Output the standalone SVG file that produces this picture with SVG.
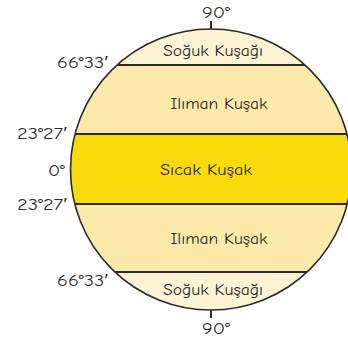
<svg xmlns="http://www.w3.org/2000/svg" width="348" height="338" viewBox="0 0 348 338">
<style>
.lbl{font-family:"Comic Neue","Liberation Sans",sans-serif;font-size:16px;fill:#2a2a2a;}
.zone{text-anchor:middle;}
.deg{text-anchor:end;}
.ln{stroke:#2a2a2a;stroke-width:2;fill:none;}
</style>
<defs>
<clipPath id="globeClip"><circle cx="211" cy="169.5" r="140.5"/></clipPath>
</defs>
<rect width="348" height="338" fill="#ffffff"/>
<g id="zones" clip-path="url(#globeClip)">
<rect id="polarN" x="60" y="25" width="300" height="40" fill="#FCF3D4"/>
<rect id="temperateN" x="60" y="65" width="300" height="69" fill="#FDE9A9"/>
<rect id="tropical" x="60" y="134" width="300" height="70" fill="#F9DB0B"/>
<rect id="temperateS" x="60" y="204" width="300" height="68" fill="#FDE9A9"/>
<rect id="polarS" x="60" y="272" width="300" height="42" fill="#FCF3D4"/>
</g>
<g id="connectors">
<g clip-path="url(#globeClip)">
<line class="ln" x1="60" y1="65" x2="360" y2="65"/>
<line class="ln" x1="60" y1="134" x2="360" y2="134"/>
<line class="ln" x1="60" y1="204" x2="360" y2="204"/>
<line class="ln" x1="60" y1="272" x2="360" y2="272"/>
</g>
<circle cx="211" cy="169.5" r="140.5" fill="none" stroke="#2a2a2a" stroke-width="1.6"/>
<line class="ln" x1="211" y1="21" x2="211" y2="29" stroke-width="1.5"/>
<line class="ln" x1="211" y1="310" x2="211" y2="318" stroke-width="1.5"/>
</g>
<g id="zoneLabels">
<text class="lbl zone" x="213" y="56" textLength="100" lengthAdjust="spacingAndGlyphs">Soğuk Kuşağı</text>
<text class="lbl zone" x="219" y="109" textLength="97" lengthAdjust="spacingAndGlyphs">Ilıman Kuşak</text>
<text class="lbl zone" x="206" y="175" textLength="92" lengthAdjust="spacingAndGlyphs">Sıcak Kuşak</text>
<text class="lbl zone" x="219" y="244" textLength="97" lengthAdjust="spacingAndGlyphs">Ilıman Kuşak</text>
<text class="lbl zone" x="213" y="295" textLength="100" lengthAdjust="spacingAndGlyphs">Soğuk Kuşağı</text>
</g>
<g id="degreeLabels">
<text class="lbl" x="216" y="18" text-anchor="middle" textLength="28" lengthAdjust="spacingAndGlyphs">90°</text>
<text class="lbl" x="216" y="334" text-anchor="middle" textLength="28" lengthAdjust="spacingAndGlyphs">90°</text>
<text class="lbl deg" x="108" y="68" textLength="51" lengthAdjust="spacingAndGlyphs">66°33′</text>
<text class="lbl deg" x="108" y="286" textLength="51" lengthAdjust="spacingAndGlyphs">66°33′</text>
<text class="lbl deg" x="67" y="139" textLength="50" lengthAdjust="spacingAndGlyphs">23°27′</text>
<text class="lbl deg" x="65" y="176" textLength="17" lengthAdjust="spacingAndGlyphs">0°</text>
<text class="lbl deg" x="67" y="210" textLength="50" lengthAdjust="spacingAndGlyphs">23°27′</text>
</g>
</svg>
